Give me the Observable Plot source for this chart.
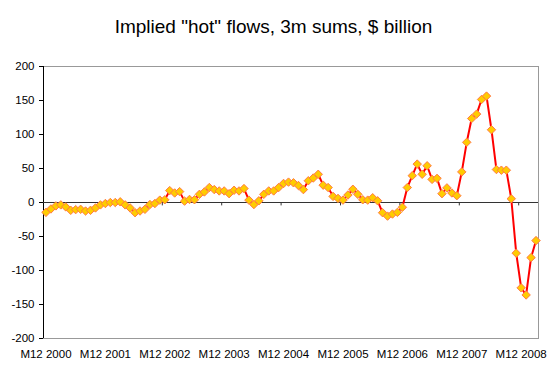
<!DOCTYPE html>
<html>
<head>
<meta charset="utf-8">
<script src="https://cdn.jsdelivr.net/npm/d3@7"></script>
<script src="https://cdn.jsdelivr.net/npm/@observablehq/plot@0.6"></script>
<style>
  html, body { margin: 0; padding: 0; background: #fff; }
  #wrap { width: 547px; height: 374px; position: relative; overflow: hidden; }
  #title { height: 50px; width: 547px; font-family: "Liberation Sans", Arial, sans-serif; font-size: 19px; color: #000; text-align: center; line-height: 22px; padding-top: 16px; box-sizing: border-box; }
  svg { display: block; }
</style>
</head>
<body>
<div id="wrap">
  <div id="title">Implied "hot" flows, 3m sums, $ billion</div>
  <div id="chart"></div>
</div>
<script>
// Monthly 3m sums, M12 2000 .. M3 2009 ($ billion)
const values = [
  -14.5, -9.5, -5, -3.5, -6.5, -11.5, -10.5, -10, -12.5, -11.5, -8, -3.5,
  -1.5, 0, 0, 1, -3.5, -8, -15, -12.5, -10, -3, -1.5, 3.5,
  4, 17.5, 14, 16, 2, 4.5, 4, 12, 15.5, 22, 19, 17,
  17, 13, 18, 17, 20.5, 3.5, -3, 2.5, 12, 17, 17, 22,
  28, 30, 29, 25, 19, 32, 36, 41.5, 25.5, 22, 9, 6,
  3.5, 11, 19.5, 12, 4, 3.5, 7, 2.5, -15, -20, -17, -14.5,
  -7, 22, 39.5, 56.5, 41.5, 54, 34, 35.5, 13, 21.5, 14, 10,
  45, 88.5, 123.5, 130, 151.5, 156.5, 107, 48.5, 47.5, 47.5, 5.5, -74.5,
  -125.5, -136, -81, -56
];
const xLabels = ["M12 2000", "M12 2001", "M12 2002", "M12 2003", "M12 2004", "M12 2005", "M12 2006", "M12 2007", "M12 2008"];
const yTicks = [-200, -150, -100, -50, 0, 50, 100, 150, 200];
const labelEvery = 12;

const data = values.map((v, i) => ({i, v}));
const labelIdx = xLabels.map((_, k) => k * labelEvery);
const catTicks = xLabels.map((_, k) => k * labelEvery - 0.5);

const chart = Plot.plot({
  width: 547,
  height: 324,
  marginTop: 16,
  marginBottom: 36,
  marginLeft: 43,
  marginRight: 9,
  style: {fontFamily: "'Liberation Sans', Arial, sans-serif", fontSize: "11px", color: "#000", background: "#fff"},
  x: {domain: [-0.5, values.length - 0.5], axis: null},
  y: {domain: [-200, 200], axis: null},
  marks: [
    Plot.frame({stroke: "#999", strokeWidth: 1}),
    Plot.ruleX([-0.5], {stroke: "#000", strokeWidth: 1}),
    Plot.ruleY([0], {stroke: "#333", strokeWidth: 1}),
    Plot.ruleX(catTicks.slice(1), {x: d => d, y1: 0, y2: -5, stroke: "#333", strokeWidth: 1}),
    Plot.axisY({ticks: yTicks, tickSize: 4, tickPadding: 5, tickFormat: d => String(d), fontSize: 11.5, label: null}),
    Plot.axisX({ticks: labelIdx, tickSize: 0, tickPadding: 11, tickFormat: (d, k) => xLabels[k], fontSize: 11.5, label: null, anchor: "bottom"}),
    Plot.line(data, {x: "i", y: "v", stroke: "#FF0000", strokeWidth: 2}),
    Plot.dot(data, {x: "i", y: "v", symbol: "diamond2", r: 3.8, fill: "#FFCC00", stroke: "#FF7A45", strokeWidth: 1})
  ]
});
document.getElementById("chart").appendChild(chart);
</script>
</body>
</html>
